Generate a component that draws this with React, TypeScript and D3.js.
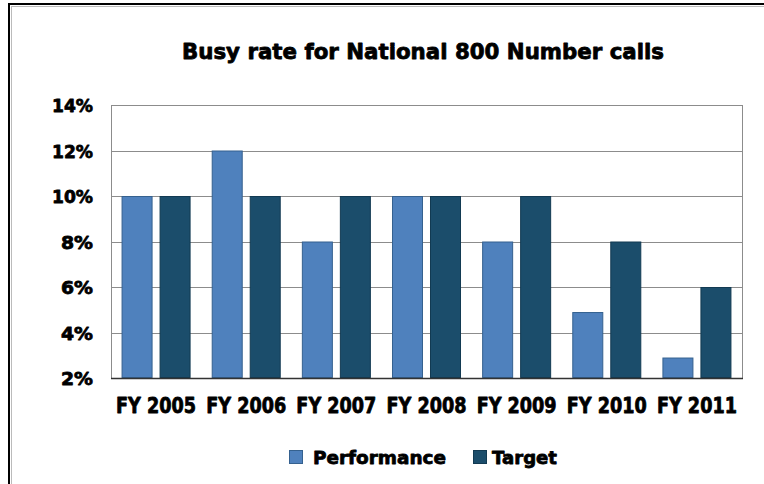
import React from "react";
import * as d3 from "d3";

const categories = ["FY 2005", "FY 2006", "FY 2007", "FY 2008", "FY 2009", "FY 2010", "FY 2011"];
const performance = [10, 12, 8, 10, 8, 4.9, 2.9];
const target = [10, 10, 10, 10, 10, 8, 6];
const yTicks = [2, 4, 6, 8, 10, 12, 14];
const seriesNames = ["Performance", "Target"];

const W = 764;
const H = 484;
const plot = { left: 111, top: 105, right: 742, bottom: 378 };
const colors = { perf: "#4F81BD", perfStroke: "#35618F", target: "#1B4D6B", targetStroke: "#123A52" };
const font = "'DejaVu Sans', 'Liberation Sans', Arial, sans-serif";

export default function App() {
  const x = d3.scaleBand<string>().domain(categories).range([plot.left, plot.right]).paddingInner(0).paddingOuter(0);
  const y = d3.scaleLinear().domain([2, 14]).range([plot.bottom, plot.top]);
  const bw = x.bandwidth();
  const inner = d3.scaleBand<string>().domain(seriesNames).range([0, bw]).paddingInner(0.184).paddingOuter(0.278);
  const series = [
    { name: "Performance", values: performance, fill: colors.perf, stroke: colors.perfStroke },
    { name: "Target", values: target, fill: colors.target, stroke: colors.targetStroke },
  ];
  const txt = { fontWeight: "bold" as const, fill: "#000", stroke: "#000", strokeWidth: 0.8, strokeLinejoin: "round" as const };
  return (
    <svg width={W} height={H} style={{ position: "absolute", left: 0, top: 0, background: "#fff" }} fontFamily={font}>
      <rect x={0} y={0} width={W} height={H} fill="#fff" />
      {/* outer frame */}
      <rect x={9} y={4} width={W + 20} height={H + 20} fill="none" stroke="#000" strokeWidth={2} />
      <rect x={11.5} y={6.5} width={W + 20} height={H + 20} fill="none" stroke="#bbb" strokeWidth={1} />
      <text x={423} y={58.5} textAnchor="middle" fontSize={21.5} {...txt} textLength={482} lengthAdjust="spacingAndGlyphs">
        Busy rate for National 800 Number calls
      </text>
      {/* gridlines */}
      {yTicks.map((t) => (
        <line key={t} x1={plot.left} x2={plot.right} y1={Math.round(y(t)) + 0.5} y2={Math.round(y(t)) + 0.5} stroke="#8c8c8c" strokeWidth={1} />
      ))}
      <line x1={plot.right + 0.5} x2={plot.right + 0.5} y1={plot.top} y2={plot.bottom} stroke="#8c8c8c" />
      {/* bars */}
      {series.map((s) =>
        s.values.map((v, i) => {
          const bx = (x(categories[i]) as number) + (inner(s.name) as number);
          const top = y(v);
          return (
            <rect key={s.name + i} x={bx + 0.5} y={top + 0.5} width={inner.bandwidth() - 1} height={y(2) - top - 1} fill={s.fill} stroke={s.stroke} strokeWidth={1} />
          );
        })
      )}
      {/* axes */}
      <line x1={plot.left + 0.5} x2={plot.left + 0.5} y1={plot.top} y2={plot.bottom} stroke="#8c8c8c" />
      <line x1={plot.left} x2={plot.right + 1} y1={plot.bottom + 0.5} y2={plot.bottom + 0.5} stroke="#333" strokeWidth={1.5} />
      {yTicks.map((t) => (
        <text key={t} x={93} y={y(t) + 7} textAnchor="end" fontSize={18.5} {...txt} textLength={t >= 10 ? 41 : 32} lengthAdjust="spacingAndGlyphs">
          {`${t}%`}
        </text>
      ))}
      {categories.map((c) => (
        <text key={c} x={(x(c) as number) + bw / 2} y={413} textAnchor="middle" fontSize={20.5} {...txt} textLength={80} lengthAdjust="spacingAndGlyphs">
          {c}
        </text>
      ))}
      {/* legend */}
      <rect x={289.5} y={450.5} width={13} height={13} fill={colors.perf} stroke={colors.perfStroke} />
      <text x={313} y={464} fontSize={18.5} {...txt} textLength={133} lengthAdjust="spacingAndGlyphs">Performance</text>
      <rect x={473.5} y={450.5} width={13} height={13} fill={colors.target} stroke={colors.targetStroke} />
      <text x={492} y={464} fontSize={18.5} {...txt} textLength={65} lengthAdjust="spacingAndGlyphs">Target</text>
    </svg>
  );
}
